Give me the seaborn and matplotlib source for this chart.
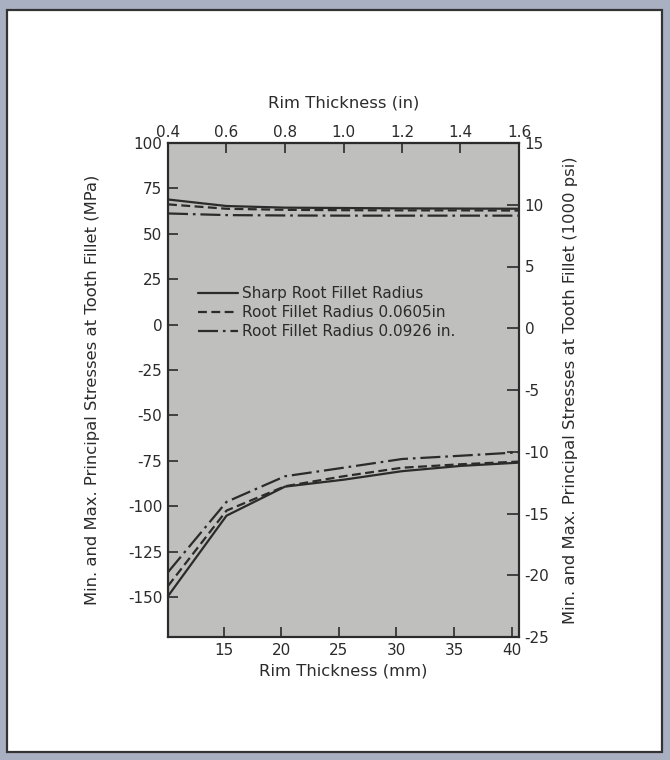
import numpy as np
import pandas as pd
import matplotlib
matplotlib.use("Agg")
import matplotlib.pyplot as plt
import seaborn as sns
from matplotlib.patches import Rectangle

# ---------------- data ----------------
rim_in = [0.4, 0.6, 0.8, 1.0, 1.2, 1.4, 1.6]
rim_mm = [10.16, 15.24, 20.32, 25.40, 30.48, 35.56, 40.64]
series = ["Sharp Root Fillet Radius",
          "Root Fillet Radius 0.0605in",
          "Root Fillet Radius 0.0926 in."]
max_sharp = [68.9, 65.3, 64.4, 64.2, 64.0, 63.9, 63.8]
max_0605 = [66.2, 63.8, 63.2, 63.0, 62.9, 62.9, 62.8]
max_0926 = [61.2, 60.3, 60.1, 60.0, 60.0, 60.0, 60.0]
min_sharp = [-149.5, -105.2, -89.2, -85.4, -80.7, -77.8, -76.0]
min_0605 = [-143.9, -102.4, -89.0, -83.5, -78.8, -76.9, -75.4]
min_0926 = [-136.3, -97.6, -83.5, -78.8, -74.0, -72.2, -70.3]

x_ticks_mm = [15, 20, 25, 30, 35, 40]
x_ticks_in = [0.4, 0.6, 0.8, 1.0, 1.2, 1.4, 1.6]
x_ticklabels_in = ["0.4", "0.6", "0.8", "1.0", "1.2", "1.4", "1.6"]
y_ticks_mpa = [100, 75, 50, 25, 0, -25, -50, -75, -100, -125, -150]
y_ticks_ksi = [15, 10, 5, 0, -5, -10, -15, -20, -25]

rows = []
for name, mx, mn in zip(series, [max_sharp, max_0605, max_0926],
                        [min_sharp, min_0605, min_0926]):
    for x, v in zip(rim_mm, mx):
        rows.append(dict(mm=x, MPa=v, Fillet=name, Extreme="max"))
    for x, v in zip(rim_mm, mn):
        rows.append(dict(mm=x, MPa=v, Fillet=name, Extreme="min"))
df = pd.DataFrame(rows)

# ---------------- style ----------------
sns.set_style("ticks")
plt.rcParams["font.family"] = ["DejaVu Sans"]
ink = "#2b2b2b"
plt.rcParams["text.color"] = ink
plt.rcParams["axes.labelcolor"] = ink
plt.rcParams["xtick.color"] = ink
plt.rcParams["ytick.color"] = ink

fig = plt.figure(figsize=(6.7, 7.6), dpi=100)
fig.patch.set_facecolor("#a9b0c2")
card = Rectangle((7 / 670, 1 - 752 / 760), (662 - 7) / 670, (752 - 10) / 760,
                 transform=fig.transFigure, facecolor="white",
                 edgecolor="#333333", linewidth=1.6, zorder=-10)
fig.add_artist(card)

ax = fig.add_axes([168 / 670, 1 - 637 / 760, (519 - 168) / 670, (637 - 143) / 760])
ax.set_facecolor("#bfbfbd")

dashes = {series[0]: "", series[1]: (4, 2), series[2]: (9, 2.2, 1.2, 2.2)}
sns.lineplot(data=df, x="mm", y="MPa", style="Fillet", units="Extreme",
             estimator=None, dashes=dashes, color=ink, linewidth=1.6,
             ax=ax, legend=True)

label_fs = 11.8
tick_fs = 11
ax.set_xlim(10.16, 40.64)
ax.set_ylim(-172, 100)
ax.set_xticks(x_ticks_mm)
ax.set_xticklabels([str(t) for t in x_ticks_mm])
ax.set_yticks(y_ticks_mpa)
ax.set_yticklabels([str(t) for t in y_ticks_mpa])
ax.tick_params(direction="in", length=7, width=1.2, labelsize=tick_fs, pad=4)
ax.set_xlabel("Rim Thickness (mm)", fontsize=label_fs, labelpad=4)
ax.set_ylabel("Min. and Max. Principal Stresses at Tooth Fillet (MPa)",
              fontsize=label_fs, labelpad=20)
for s in ax.spines.values():
    s.set_color(ink)
    s.set_linewidth(1.5)
    s.set_visible(True)

# top axis in inches
top = ax.secondary_xaxis("top", functions=(lambda x: x / 25.4, lambda x: x * 25.4))
top.set_xticks(x_ticks_in)
top.set_xticklabels(x_ticklabels_in)
top.tick_params(direction="in", length=7, width=1.2, labelsize=tick_fs, pad=2)
top.set_xlabel("Rim Thickness (in)", fontsize=label_fs, labelpad=13)
top.spines["top"].set_color(ink)
top.spines["top"].set_linewidth(1.5)

# right axis in ksi
ax2 = ax.twinx()
ax2.set_ylim(-25, 15)
ax2.set_yticks(y_ticks_ksi)
ax2.set_yticklabels([str(t) for t in y_ticks_ksi])
ax2.tick_params(direction="in", length=9, width=1.2, labelsize=tick_fs, pad=4)
ax2.set_ylabel("Min. and Max. Principal Stresses at Tooth Fillet (1000 psi)",
               fontsize=label_fs, labelpad=10)
for s in ax2.spines.values():
    s.set_color(ink)
    s.set_linewidth(1.5)

# legend
handles, labels = ax.get_legend_handles_labels()
pairs = [(h, l) for h, l in zip(handles, labels) if l in series]
leg = ax.legend([p[0] for p in pairs], [p[1] for p in pairs],
                loc="upper left", bbox_to_anchor=(0.085, 0.71),
                frameon=False, fontsize=11, handlelength=2.6,
                handletextpad=0.27, labelspacing=0.25, borderpad=0,
                borderaxespad=0)

fig.savefig("out.png", dpi=100, facecolor=fig.get_facecolor())
